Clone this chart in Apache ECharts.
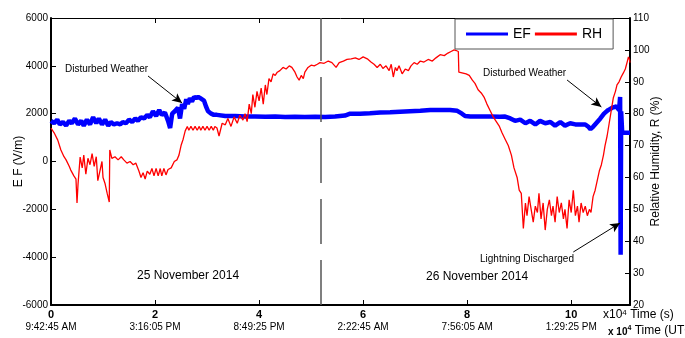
<!DOCTYPE html>
<html>
<head>
<meta charset="utf-8">
<script src="https://cdn.jsdelivr.net/npm/echarts@6/dist/echarts.min.js"></script>
<style>
  html, body { margin: 0; padding: 0; background: #fff; }
  #chart { width: 685px; height: 338px; }
</style>
</head>
<body>
<div id="chart"></div>
<script>
// time axis in units of 10^4 s
const efTime = [0.00, 0.06, 0.12, 0.17, 0.23, 0.29, 0.35, 0.40, 0.46, 0.52, 0.58, 0.63, 0.69, 0.75, 0.81, 0.87, 0.92, 0.98,
  1.04, 1.10, 1.15, 1.21, 1.27, 1.33, 1.38, 1.44, 1.50, 1.56, 1.62, 1.67, 1.73, 1.79, 1.85, 1.90, 1.96, 2.02, 2.08, 2.13,
  2.19, 2.25, 2.29, 2.33, 2.38, 2.44, 2.48, 2.52, 2.56, 2.60, 2.63, 2.67, 2.71, 2.75, 2.79, 2.83, 2.87, 2.90, 2.94, 2.98,
  3.02, 3.08, 3.13, 3.19, 3.35, 3.54, 3.73, 3.92, 4.12, 4.31, 4.50, 4.69, 4.88, 5.08, 5.27, 5.46, 5.65, 5.75, 5.94, 6.13,
  6.33, 6.52, 6.71, 6.90, 7.10, 7.29, 7.48, 7.67, 7.81, 7.90, 7.96, 8.06, 8.25, 8.44, 8.63, 8.73, 8.83, 8.92, 9.02, 9.12,
  9.21, 9.31, 9.40, 9.50, 9.60, 9.69, 9.79, 9.88, 9.98, 10.08, 10.17, 10.27, 10.33, 10.37, 10.42, 10.48, 10.56, 10.63,
  10.71, 10.79, 10.87, 10.92, 10.94, 10.95, 10.96, 10.98, 11.13];
const efValue = [1700, 1600, 1750, 1550, 1650, 1500, 1700, 1600, 1800, 1550, 1700, 1500, 1750, 1550, 1850, 1600, 1800, 1550,
  1750, 1500, 1650, 1550, 1600, 1550, 1650, 1600, 1750, 1650, 1800, 1700, 1850, 1800, 1950, 1850, 2100, 1900, 2150, 1950,
  2050, 1700, 1400, 2000, 2100, 2250, 1800, 2400, 2200, 2600, 2400, 2650, 2500, 2700, 2650, 2700, 2650, 2700, 2550, 2300,
  2100, 2000, 1950, 1950, 1900, 1900, 1880, 1880, 1870, 1880, 1860, 1870, 1860, 1870, 1860, 1880, 1920, 2000, 2000, 2020,
  2050, 2060, 2080, 2100, 2120, 2150, 2150, 2150, 2120, 2000, 1900, 1880, 1880, 1880, 1870, 1880, 1800, 1700, 1750, 1600,
  1700, 1550, 1700, 1600, 1650, 1500, 1650, 1500, 1600, 1550, 1550, 1550, 1450, 1350, 1450, 1600, 1800, 2000,
  2150, 2250, 2300, 2150, 2700, -3900, 2100, 1200, 1200];

const rhTime = [0.00, 0.06, 0.13, 0.19, 0.25, 0.29, 0.35, 0.38, 0.44, 0.48, 0.50, 0.52, 0.56, 0.60, 0.63, 0.67, 0.71, 0.75,
  0.79, 0.83, 0.87, 0.90, 0.94, 0.98, 1.00, 1.04, 1.08, 1.12, 1.13, 1.17, 1.23, 1.29, 1.35, 1.40, 1.46, 1.52, 1.58, 1.63,
  1.69, 1.73, 1.77, 1.81, 1.85, 1.90, 1.94, 1.98, 2.02, 2.06, 2.10, 2.13, 2.17, 2.21, 2.25, 2.31, 2.37, 2.42, 2.46, 2.50,
  2.54, 2.58, 2.62, 2.65, 2.69, 2.73, 2.77, 2.81, 2.85, 2.88, 2.92, 2.96, 3.00, 3.04, 3.08, 3.12, 3.15, 3.19, 3.23, 3.25,
  3.29, 3.35, 3.40, 3.46, 3.52, 3.58, 3.63, 3.69, 3.73, 3.77, 3.81, 3.85, 3.88, 3.92, 3.96, 4.00, 4.04, 4.08, 4.12, 4.15,
  4.19, 4.23, 4.27, 4.31, 4.35, 4.40, 4.46, 4.52, 4.58, 4.63, 4.69, 4.73, 4.77, 4.81, 4.85, 4.88, 4.94, 5.00, 5.06, 5.12,
  5.17, 5.25, 5.33, 5.40, 5.48, 5.54, 5.62, 5.69, 5.77, 5.85, 5.92, 6.00, 6.08, 6.15, 6.21, 6.27, 6.33, 6.38, 6.44, 6.50,
  6.54, 6.58, 6.62, 6.65, 6.69, 6.75, 6.81, 6.87, 6.92, 6.98, 7.04, 7.10, 7.17, 7.25, 7.33, 7.40, 7.48, 7.56, 7.63, 7.69,
  7.75, 7.79, 7.83, 7.84, 7.90, 7.98, 8.04, 8.10, 8.15, 8.21, 8.27, 8.33, 8.38, 8.44, 8.50, 8.56, 8.62, 8.67, 8.73, 8.79,
  8.85, 8.90, 8.96, 9.00, 9.04, 9.08, 9.12, 9.15, 9.19, 9.23, 9.27, 9.31, 9.35, 9.38, 9.42, 9.46, 9.50, 9.54, 9.58, 9.62,
  9.65, 9.69, 9.73, 9.77, 9.81, 9.85, 9.88, 9.92, 9.96, 10.00, 10.04, 10.08, 10.12, 10.15, 10.19, 10.23, 10.27, 10.31,
  10.35, 10.38, 10.42, 10.46, 10.50, 10.54, 10.58, 10.62, 10.65, 10.69, 10.73, 10.77, 10.81, 10.85, 10.88, 10.92, 10.96,
  11.00, 11.04, 11.08, 11.10, 11.12, 11.13];
const rhValue = [75.5, 74, 71.7, 68.6, 66.5, 65.5, 63.5, 62.3, 60.5, 59.5, 52, 58, 66.4, 63, 67, 61, 66, 64,
  67.5, 63.5, 66.5, 59, 62, 65, 60, 58, 55, 52.3, 68.6, 66, 66.5, 65.5, 66.5, 65.5, 64.5, 65, 64, 64.5,
  62, 60, 61.5, 59.5, 62, 61, 62.8, 60.5, 62.8, 60.5, 62.8, 60.5, 62.8, 60.8, 62.5, 63, 65, 65.5, 67, 70,
  72, 74.6, 76, 74.8, 76, 74.8, 76, 74.8, 76, 74.8, 76, 74.8, 76, 74.8, 76, 74.8, 76, 75.5, 73, 72.7,
  77, 76.5, 78.5, 76, 79, 77, 79.5, 78, 80, 77.5, 83, 80, 86, 82, 87, 84, 88, 83, 89, 86,
  91, 90, 92.5, 92, 93, 93.5, 94.5, 94, 95, 94.5, 93, 91.5, 90.5, 92, 91, 93, 94.5, 95.2, 95, 95.5,
  96, 95.8, 96.5, 96, 94.5, 96, 96.5, 97, 97.2, 97.5, 97, 97.8, 97.2, 96.2, 95.5, 94.5, 95.5, 94.2, 95, 93.5,
  95.5, 91.5, 94.5, 93.5, 95, 92.5, 94, 93.5, 95, 96, 95.5, 96.5, 96.2, 97, 96.5, 97.5, 98.5, 98.2, 99, 99.5,
  100, 99.8, 99.5, 93, 92.8, 92.5, 92, 90.5, 89.5, 87.5, 86.5, 85, 83, 81, 79, 77.5, 76, 74, 72, 70,
  67, 63, 60, 56, 55, 44, 52, 48, 54, 50, 46, 51, 49, 55, 47, 52, 43.5, 50, 53, 48,
  51, 46, 54, 49, 52, 47, 50, 44, 53, 49, 56, 48, 51, 46, 52, 49, 51, 48,
  50, 49, 54, 56, 59, 62, 64, 67, 70, 73, 77, 81, 85, 87, 89, 90, 91.5,
  92.7, 94, 96.5, 97.8, 97, 96];

const xTicks = [0, 2, 4, 6, 8, 10];
const xTimeLabels = ['9:42:45 AM', '3:16:05 PM', '8:49:25 PM', '2:22:45 AM', '7:56:05 AM', '1:29:25 PM'];
const dayBoundary = 5.19;
const xMax = 11.13;

const FONT = 'Liberation Sans';
const efData = efTime.map((t, i) => [t, efValue[i]]);
const rhData = rhTime.map((t, i) => [t, rhValue[i]]);

const myChart = echarts.init(document.getElementById('chart'));

const axisBlack = { show: true, onZero: false, lineStyle: { color: '#000', width: 2 } };
const tickIn = { show: true, inside: true, length: 5, lineStyle: { color: '#000', width: 1 } };

const option = {
  animation: false,
  backgroundColor: '#fff',
  textStyle: { fontFamily: FONT },
  grid: { left: 51, right: 55, top: 18, bottom: 33, containLabel: false, outerBoundsMode: 'none' },
  legend: {
    data: ['EF', 'RH'],
    left: 455,
    top: 19,
    padding: [8, 11, 8, 11],
    itemGap: 4,
    itemWidth: 42,
    itemHeight: 3,
    icon: 'rect',
    backgroundColor: '#fff',
    borderColor: '#555',
    borderWidth: 1,
    borderRadius: 0,
    textStyle: { fontFamily: FONT, fontSize: 14, color: '#000' },
  },
  xAxis: [
    {
      type: 'value',
      position: 'bottom',
      min: 0,
      max: xMax,
      interval: 2,
      axisLine: axisBlack,
      axisTick: tickIn,
      splitLine: { show: false },
      axisLabel: {
        margin: 4,
        showMaxLabel: false,
        formatter: function (value) {
          const i = xTicks.indexOf(value);
          if (i < 0) return '';
          return '{n|' + value + '}\n{t|' + xTimeLabels[i] + '}';
        },
        rich: {
          n: { fontFamily: FONT, fontSize: 11, fontWeight: 'bold', color: '#000', lineHeight: 12 },
          t: { fontFamily: FONT, fontSize: 10, color: '#000', lineHeight: 12 },
        },
      },
    },
    {
      type: 'value',
      position: 'top',
      min: 0,
      max: xMax,
      interval: 2,
      axisLine: { show: true, onZero: false, lineStyle: { color: '#000', width: 1 } },
      axisTick: tickIn,
      axisLabel: { show: false },
      splitLine: { show: false },
    },
  ],
  yAxis: [
    {
      type: 'value',
      position: 'left',
      min: -6000,
      max: 6000,
      interval: 2000,
      axisLine: axisBlack,
      axisTick: tickIn,
      splitLine: { show: false },
      axisLabel: { fontFamily: FONT, fontSize: 10, color: '#000', margin: 3, formatter: (v) => String(v) },
      name: 'E F (V/m)',
      nameLocation: 'middle',
      nameRotate: 90,
      nameGap: 26,
      nameMoveOverlap: false,
      nameTextStyle: { fontFamily: FONT, fontSize: 12, color: '#000' },
    },
    {
      type: 'value',
      position: 'right',
      min: 20,
      max: 110,
      interval: 10,
      axisLine: axisBlack,
      axisTick: tickIn,
      splitLine: { show: false },
      axisLabel: { fontFamily: FONT, fontSize: 10, color: '#000', margin: 3, formatter: (v) => String(v) },
      name: 'Relative Humidity, R (%)',
      nameLocation: 'middle',
      nameRotate: 90,
      nameGap: 20,
      nameMoveOverlap: false,
      nameTextStyle: { fontFamily: FONT, fontSize: 12, color: '#000' },
    },
  ],
  series: [
    {
      name: 'EF',
      type: 'line',
      xAxisIndex: 0,
      yAxisIndex: 0,
      data: efData,
      showSymbol: false,
      color: '#0000ff',
      lineStyle: { color: '#0000ff', width: 4.5 },
      markLine: {
        silent: true,
        symbol: ['none', 'arrow'],
        symbolSize: [7, 10],
        label: { show: false },
        lineStyle: { color: '#000', width: 1, type: 'solid' },
        data: [
          [{ coord: [1.865, 3575] }, { coord: [2.52, 2446] }],
          [{ coord: [9.92, 3408] }, { coord: [10.58, 2279] }],
          [{ coord: [10.04, -3784] }, { coord: [10.94, -2571] }],
        ],
      },
    },
    {
      name: 'RH',
      type: 'line',
      xAxisIndex: 0,
      yAxisIndex: 1,
      data: rhData,
      showSymbol: false,
      color: '#ff0000',
      lineStyle: { color: '#ff0000', width: 1.3 },
      markLine: {
        silent: true,
        symbol: ['none', 'none'],
        label: { show: false },
        lineStyle: { color: '#555', width: 1.5, type: [45, 16] },
        data: [{ xAxis: dayBoundary }],
      },
    },
  ],
  graphic: [
    { type: 'text', left: 65, top: 64, style: { text: 'Disturbed Weather', font: '10px "Liberation Sans"', fill: '#000' } },
    { type: 'text', left: 483, top: 68, style: { text: 'Disturbed Weather', font: '10px "Liberation Sans"', fill: '#000' } },
    { type: 'text', left: 480, top: 254, style: { text: 'Lightning Discharged', font: '10px "Liberation Sans"', fill: '#000' } },
    { type: 'text', left: 137, top: 270, style: { text: '25 November 2014', font: '12px "Liberation Sans"', fill: '#000' } },
    { type: 'text', left: 426, top: 271, style: { text: '26 November 2014', font: '12px "Liberation Sans"', fill: '#000' } },
    {
      type: 'text', left: 603, top: 309,
      style: {
        text: '{a|x10}{s|4}{a| Time (s)}',
        rich: {
          a: { fontFamily: FONT, fontSize: 12, fill: '#000', verticalAlign: 'bottom' },
          s: { fontFamily: FONT, fontSize: 8, fill: '#000', verticalAlign: 'top' },
        },
      },
    },
    {
      type: 'text', left: 608, top: 325,
      style: {
        text: '{b|x 10}{s|4}{a| Time (UTC)}',
        rich: {
          b: { fontFamily: FONT, fontSize: 10, fontWeight: 'bold', fill: '#000', verticalAlign: 'bottom' },
          a: { fontFamily: FONT, fontSize: 12, fill: '#000', verticalAlign: 'bottom' },
          s: { fontFamily: FONT, fontSize: 7, fontWeight: 'bold', fill: '#000', verticalAlign: 'top' },
        },
      },
    },
  ],
};

myChart.setOption(option);
</script>
</body>
</html>
